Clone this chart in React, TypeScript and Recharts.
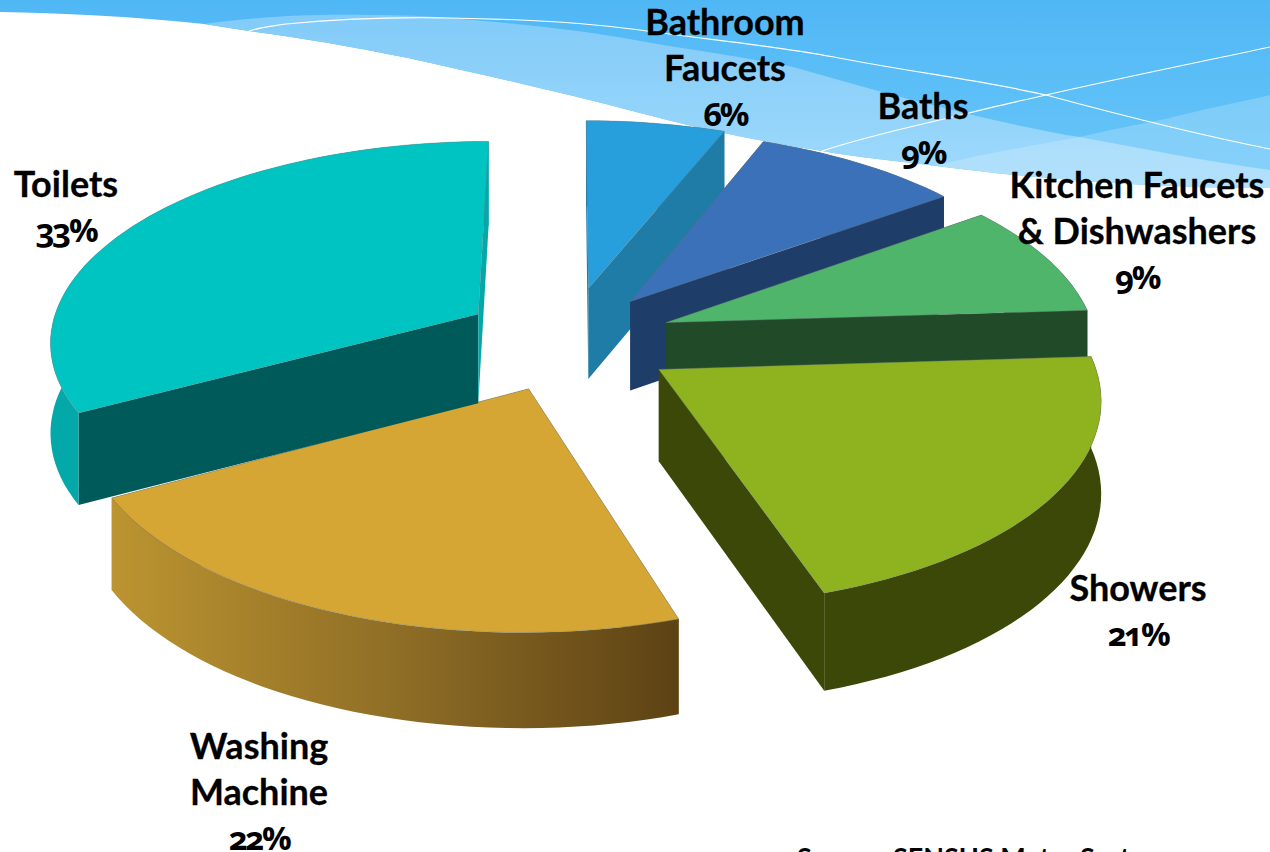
import { PieChart, Pie } from "recharts";

const categories = ["Bathroom Faucets", "Baths", "Kitchen Faucets & Dishwashers", "Showers", "Washing Machine", "Toilets"];
const shares = [6, 9, 9, 21, 22, 33];
const labelLines = [
  ["Bathroom", "Faucets"],
  ["Baths"],
  ["Kitchen Faucets", "& Dishwashers"],
  ["Showers"],
  ["Washing", "Machine"],
  ["Toilets"],
];

// looks
const topColors = ["#279fdd", "#3b71b8", "#4fb56a", "#8fb31f", "#d5a633", "#00c4c2"];
const wallColors = ["#1f7ca6", "#1e3d69", "#214a28", "#3c4808", "#7a5a1e", "#005a5a"];
const endWallColors = ["#1f7ca6", "#1e3d69", "#214a28", "#3c4808", "#7a5a1e", "#02a9a8"];
const rimFills = ["#1f7ca6", "#1e3d69", "#214a28", "#3c4808", "url(#washRim)", "#02a9a8"];
const explode = [0.26, 0.23, 0.23, 0.24, 0.26, 0.26];
const nudge = [
  [-7, -2],
  [-4, -3],
  [-1, -2],
  [-3, 2],
  [-4, -1],
  [-2, 0],
];
const depths = [92, 90, 88, 91, 88, 90];
const labelAnchors = [
  [725, 35],
  [923, 119],
  [1137, 198],
  [1138, 601],
  [259, 759],
  [66, 197],
];

const CX = 575;
const CY = 340;
const RADIUS = 430;
const FLAT = 200 / 430; // vertical squash
const PERSP = 0.124;

const chartData = categories.map((name, i) => ({ name, value: shares[i] }));

function project(u: number, v: number, drop = 0) {
  const s = 1 / (1 - PERSP * v);
  return [CX + u * RADIUS * s, CY + v * RADIUS * FLAT * s + drop * Math.sqrt(s)];
}

function toPath(pts: number[][]) {
  return "M" + pts.map((p) => `${p[0].toFixed(1)},${p[1].toFixed(1)}`).join("L") + "Z";
}

function SliceShape(props: any) {
  const { startAngle, endAngle, index } = props;
  const rad = (a: number) => (a * Math.PI) / 180;
  const mid = rad((startAngle + endAngle) / 2);
  const ox = Math.cos(mid) * explode[index];
  const oy = -Math.sin(mid) * explode[index];
  const depth = depths[index];

  const rimDisk: number[][] = [];
  const steps = Math.ceil(Math.abs(startAngle - endAngle) / 2);
  for (let i = 0; i <= steps; i++) {
    const a = rad(startAngle + ((endAngle - startAngle) * i) / steps);
    rimDisk.push([ox + Math.cos(a), oy - Math.sin(a)]);
  }
  const apexTop = project(ox, oy);
  const apexLow = project(ox, oy, depth);
  const rimTop = rimDisk.map(([u, v]) => project(u, v));
  const rimLow = rimDisk.map(([u, v]) => project(u, v, depth));
  const last = rimTop.length - 1;

  return (
    <g transform={`translate(${nudge[index][0]},${nudge[index][1]})`}>
      <path d={toPath([apexTop, rimTop[0], rimLow[0], apexLow])} fill={wallColors[index]} />
      <path d={toPath([apexTop, rimTop[last], rimLow[last], apexLow])} fill={endWallColors[index]} />
      <path d={toPath([...rimTop, ...[...rimLow].reverse()])} fill={rimFills[index]} />
      <path d={toPath([apexTop, ...rimTop])} fill={topColors[index]} stroke="#6f7f85" strokeOpacity={0.4} strokeWidth={1} />
    </g>
  );
}

function SliceLabel(props: any) {
  const { index } = props;
  const [x, y] = labelAnchors[index];
  const lines = labelLines[index];
  return (
    <text textAnchor="middle" fontFamily="Lato" fontWeight={700} fontSize={36} fill="#000" stroke="#000" strokeWidth={0.3}>
      {lines.map((line, i) => (
        <tspan key={line} x={x} y={y + i * 46}>
          {line}
        </tspan>
      ))}
      <tspan
        x={x}
        y={y + lines.length * 46 - 1}
        fontFamily="Open Sans"
        fontWeight={700}
        fontSize={33}
        letterSpacing={-2.5}
        stroke="none"
        style={{ fontFeatureSettings: '"onum"', fontVariantNumeric: "oldstyle-nums" }}
      >
        {`${shares[index]}%`}
      </tspan>
    </text>
  );
}

function Backdrop() {
  const lowerEdge =
    "C1180,188 1100,183 1038,177 C1000,174 970,170 936,166 C900,161 860,158 822,151 C780,144 750,139 724,133 C690,126 660,118 640,113 C560,92 480,74 408,58 C350,46 300,38 249,31 L204,24";
  return (
    <svg width={1270} height={852} style={{ position: "absolute", left: 0, top: 0 }}>
      <defs>
        <linearGradient id="skyBase" x1="0" y1="0" x2="0" y2="1">
          <stop offset="0" stopColor="#50b7f5" />
          <stop offset="1" stopColor="#6ac7f9" />
        </linearGradient>
        <linearGradient id="skyBand" x1="0" y1="0" x2="0" y2="1">
          <stop offset="0" stopColor="#82cbf8" />
          <stop offset="1" stopColor="#a0dafc" />
        </linearGradient>
      </defs>
      <path d={`M0,0 H1270 V188 ${lowerEdge} C130,16 60,13 0,12 Z`} fill="url(#skyBase)" />
      <path
        d={`M204,24 C260,16 320,14 367,15 C400,15 430,16 449,18 C520,24 580,30 640,41 C690,50 740,56 793,67 C890,95 990,122 1079,137 C1150,150 1210,162 1270,170 V188 ${lowerEdge} Z`}
        fill="url(#skyBand)"
      />
      <path d="M936,166 C980,154 1030,146 1079,137 C1110,130 1140,124 1165,119 C1200,110 1240,102 1270,95 V188 C1180,188 1100,183 1038,177 C1000,174 970,170 936,166 Z" fill="#ffffff" opacity={0.2} />
      <path d="M249,31 C262,27 274,26 286,24 C340,19 400,17 449,18 C520,19 580,22 640,30 C710,40 770,45 834,57 C910,72 980,80 1046,95 C1120,115 1200,135 1270,149" fill="none" stroke="#fff" strokeWidth={1.2} />
      <path d="M822,151 C870,135 920,125 969,113 C995,106 1020,101 1046,95 C1120,78 1200,62 1270,47" fill="none" stroke="#fff" strokeWidth={1.2} />
      <text x={797} y={867} fontFamily="Lato" fontWeight={700} fontSize={27} fill="#000">
        Source: SENSUS Meter Systems
      </text>
    </svg>
  );
}

export default function App() {
  return (
    <div style={{ position: "absolute", left: 0, top: 0, width: 1270, height: 852, overflow: "hidden", background: "#fff" }}>
      <Backdrop />
      <div style={{ position: "absolute", left: 0, top: 0 }}>
        <PieChart width={1270} height={852} margin={{ top: 0, right: 0, bottom: 0, left: 0 }}>
          <defs>
            <linearGradient id="washRim" x1="0" y1="0" x2="1" y2="0">
              <stop offset="0" stopColor="#bc9430" />
              <stop offset="0.5" stopColor="#8f6e26" />
              <stop offset="1" stopColor="#5d4214" />
            </linearGradient>
          </defs>
          <Pie
            data={chartData}
            dataKey="value"
            nameKey="name"
            cx={CX}
            cy={CY}
            outerRadius={RADIUS}
            startAngle={90}
            endAngle={-270}
            paddingAngle={0}
            stroke="none"
            shape={SliceShape}
            label={SliceLabel}
            labelLine={false}
            isAnimationActive={false}
          />
        </PieChart>
      </div>
    </div>
  );
}
